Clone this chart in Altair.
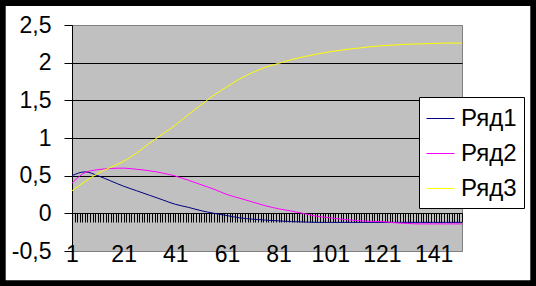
import altair as alt
import pandas as pd

# category positions where values were read (categories 1..152)
points = [1, 6, 11, 16, 21, 26, 31, 36, 41, 46, 51, 56, 61, 66, 71, 76, 81, 86,
          91, 96, 101, 106, 111, 116, 121, 126, 131, 136, 141, 146, 151, 152]
series_names = ["Ряд1", "Ряд2", "Ряд3"]
row1 = [0.50, 0.55, 0.50, 0.43, 0.36, 0.30, 0.24, 0.18, 0.12, 0.08, 0.035, 0.00,
        -0.03, -0.06, -0.078, -0.09, -0.10, -0.11, -0.115, -0.12, -0.12, -0.12,
        -0.12, -0.12, -0.12, -0.12, -0.12, -0.12, -0.12, -0.12, -0.12, -0.12]
row2 = [0.40, 0.54, 0.58, 0.595, 0.60, 0.585, 0.565, 0.535, 0.495, 0.44, 0.38,
        0.32, 0.25, 0.20, 0.15, 0.10, 0.06, 0.03, -0.005, -0.04, -0.06, -0.08,
        -0.095, -0.105, -0.11, -0.125, -0.135, -0.14, -0.14, -0.14, -0.14, -0.14]
row3 = [0.30, 0.42, 0.53, 0.61, 0.69, 0.80, 0.93, 1.05, 1.17, 1.31, 1.44, 1.57,
        1.68, 1.785, 1.87, 1.94, 1.99, 2.04, 2.08, 2.115, 2.145, 2.17, 2.19, 2.21,
        2.225, 2.235, 2.245, 2.25, 2.255, 2.26, 2.26, 2.26]
n_categories = 152
y_ticks = [-0.5, 0, 0.5, 1, 1.5, 2, 2.5]
colors = ["#000080", "#FF00FF", "#FFFF00"]

rows = []
for name, vals in zip(series_names, [row1, row2, row3]):
    for p, v in zip(points, vals):
        rows.append({"cat": p, "value": v, "series": name})
df = pd.DataFrame(rows)

W, H = 390, 226
PL, PT, PR, PB = 72, 25, 74, 35
FONT = "Liberation Sans"

x_scale = alt.Scale(domain=[1, n_categories], nice=False, zero=False)
y_scale = alt.Scale(domain=[-0.5, 2.5], nice=False, zero=False)

lines = alt.Chart(df).mark_line(strokeWidth=1, interpolate="monotone").encode(
    x=alt.X("cat:Q", scale=x_scale,
            axis=alt.Axis(values=list(range(1, n_categories + 1)), title=None,
                          offset=-38, tickSize=9, tickColor="black",
                          domainColor="black", grid=False,
                          labelExpr="datum.value % 20 == 1 ? datum.value : ''",
                          labelOverlap=False, labelFlush=False, labelPadding=21,
                          labelFont=FONT, labelFontSize=23, labelColor="black")),
    y=alt.Y("value:Q", scale=y_scale,
            axis=alt.Axis(values=y_ticks, title=None, tickSize=8,
                          tickColor="black", domainColor="black",
                          grid=True,
                          gridColor={"condition": {"test": "datum.value == 2.5 || datum.value == -0.5",
                                                   "value": "#808080"},
                                     "value": "black"},
                          labelExpr="replace(toString(datum.value), '.', ',')",
                          labelPadding=13, labelFont=FONT, labelFontSize=23,
                          labelColor="black", labelFlush=False)),
    color=alt.Color("series:N",
                    scale=alt.Scale(domain=series_names, range=colors),
                    legend=alt.Legend(title=None, orient="none", legendX=347,
                                      legendY=72, fillColor="white",
                                      strokeColor="black", padding=7,
                                      symbolType="stroke", symbolSize=784,
                                      symbolStrokeWidth=1, labelFont=FONT,
                                      labelFontSize=24, labelColor="black",
                                      rowPadding=8, labelOffset=6)),
)

frame = alt.Chart(pd.DataFrame({"f": [0]})).mark_rect(
    fill=None, stroke="black", strokeWidth=6).encode(
    x=alt.value(-PL + 2.7), x2=alt.value(W + PR - 2.7),
    y=alt.value(-PT + 3), y2=alt.value(H + PB - 2.7),
)

chart = alt.layer(lines, frame).properties(
    width=W, height=H,
    autosize=alt.AutoSizeParams(type="none"),
    padding={"left": PL, "top": PT, "right": PR, "bottom": PB},
    background="white",
).configure_view(fill="#C0C0C0", stroke="#808080")

chart.save("out.html", embed_options={"renderer": "svg", "actions": False})
